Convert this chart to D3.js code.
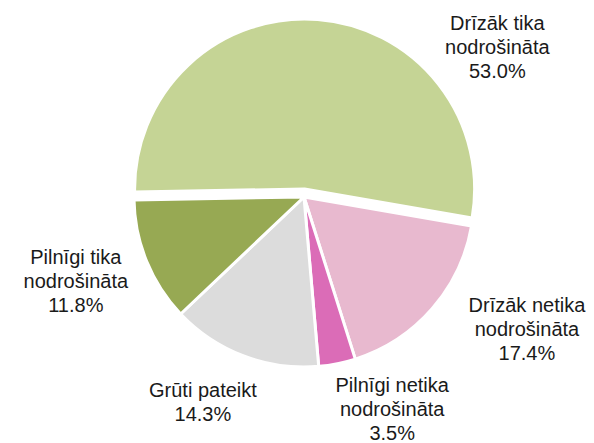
<!DOCTYPE html>
<html>
<head>
<meta charset="utf-8">
<script src="https://cdn.jsdelivr.net/npm/d3@7"></script>
<style>
body { margin: 0; background: #fff; }
text { font-family: "Liberation Sans", Arial, sans-serif; font-size: 20px; fill: #1a1a1a; }
</style>
</head>
<body>
<svg id="chart" width="594" height="443"></svg>
<script>
// slice data, clockwise from the first slice
var labels = [
    ["Drīzāk tika", "nodrošināta"],
    ["Drīzāk netika", "nodrošināta"],
    ["Pilnīgi netika", "nodrošināta"],
    ["Grūti pateikt"],
    ["Pilnīgi tika", "nodrošināta"]
];
var values = [53.0, 17.4, 3.5, 14.3, 11.8];
var colors = ["#c5d495", "#e8b9cf", "#db6cb7", "#dcdcdc", "#97a953"];

// label placement around the pie (degrees clockwise from top, distance from centre)
var labelAngle = [52.1, 120.6, 157.4, 206.2, 249.9];
var labelDist = [245, 259, 229.5, 229, 243];
var explode = [8, 0, 0, 0, 0];

var CX = 304, CY = 197, R = 170;
var LINE_H = 24;

var rad = function(d) { return d * Math.PI / 180; };

var svg = d3.select("#chart");
var g = svg.append("g").attr("transform", "translate(" + CX + "," + CY + ")");

var pie = d3.pie()
    .sort(null)
    .startAngle(rad(-91))
    .endAngle(rad(269))
    .value(function(d) { return d; });

var arc = d3.arc().innerRadius(0).outerRadius(R);
var arcs = pie(values);

g.selectAll("path.slice")
    .data(arcs)
    .enter().append("path")
    .attr("class", "slice")
    .attr("d", arc)
    .attr("transform", function(d, i) {
	var mid = (d.startAngle + d.endAngle) / 2;
	return "translate(" + (Math.sin(mid) * explode[i]) + "," + (-Math.cos(mid) * explode[i]) + ")";
    })
    .style("fill", function(d, i) { return colors[i]; })
    .style("stroke", "#fff")
    .style("stroke-width", 3)
    .style("stroke-linejoin", "round");

// Labels: polar point is the vertical centre of the text block
g.selectAll("text.lab")
    .data(arcs)
    .enter().append("text")
    .attr("class", "lab")
    .attr("text-anchor", "middle")
    .each(function(d, i) {
	var a = rad(labelAngle[i]);
	var x = Math.sin(a) * labelDist[i];
	var y = -Math.cos(a) * labelDist[i];
	var lines = labels[i].concat([values[i].toFixed(1) + "%"]);
	var top = y - (lines.length - 1) * LINE_H / 2 + 7;
	var t = d3.select(this);
	lines.forEach(function(s, k) {
	    t.append("tspan")
		.attr("x", x)
		.attr("y", top + k * LINE_H)
		.text(s);
	});
    });
</script>
</body>
</html>
